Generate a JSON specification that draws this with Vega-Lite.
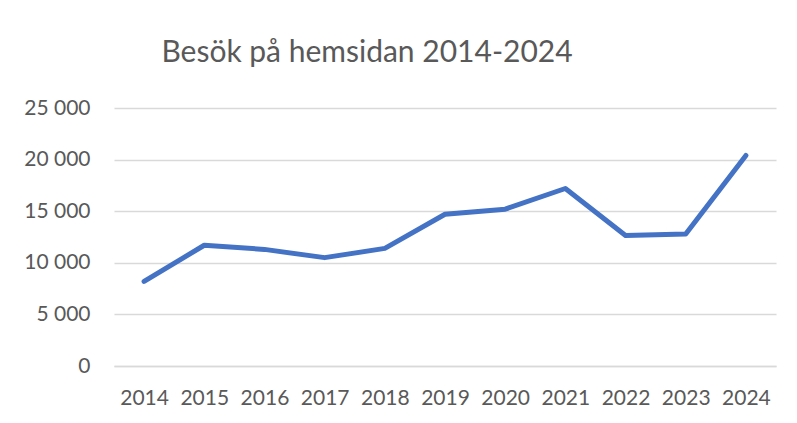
{
  "$schema": "https://vega.github.io/schema/vega-lite/v6.json",
  "width": 662,
  "height": 258,
  "autosize": {"type": "none"},
  "padding": {"left": 114, "top": 108, "right": 21, "bottom": 57},
  "background": "white",
  "title": {
    "text": "Besök på hemsidan 2014-2024",
    "font": "Lato",
    "fontSize": 30,
    "fontWeight": "normal",
    "color": "#595959",
    "anchor": "middle",
    "dx": -78,
    "offset": 29
  },
  "data": {
    "values": [
      {"year": "2014", "visits": 8200},
      {"year": "2015", "visits": 11700},
      {"year": "2016", "visits": 11300},
      {"year": "2017", "visits": 10500},
      {"year": "2018", "visits": 11400},
      {"year": "2019", "visits": 14700},
      {"year": "2020", "visits": 15200},
      {"year": "2021", "visits": 17200},
      {"year": "2022", "visits": 12650},
      {"year": "2023", "visits": 12800},
      {"year": "2024", "visits": 20400}
    ]
  },
  "mark": {"type": "line", "color": "#4472C4", "strokeWidth": 5, "strokeCap": "round", "strokeJoin": "round"},
  "encoding": {
    "x": {
      "field": "year",
      "type": "ordinal",
      "scale": {"padding": 0.5},
      "axis": {
        "title": null,
        "labelAngle": 0,
        "ticks": false,
        "domain": true,
        "domainColor": "#D9D9D9",
        "domainWidth": 1.3,
        "grid": false,
        "labelFont": "Lato",
        "labelFontSize": 21,
        "labelColor": "#595959",
        "labelPadding": 21
      }
    },
    "y": {
      "field": "visits",
      "type": "quantitative",
      "scale": {"domain": [0, 25000], "nice": false, "zero": true},
      "axis": {
        "title": null,
        "values": [0, 5000, 10000, 15000, 20000, 25000],
        "format": ",d",
        "ticks": false,
        "domain": false,
        "grid": true,
        "gridColor": "#D9D9D9",
        "gridWidth": 1.3,
        "labelFont": "Lato",
        "labelFontSize": 21,
        "labelColor": "#595959",
        "labelPadding": 24
      }
    }
  },
  "config": {
    "view": {"stroke": null},
    "locale": {
      "number": {"decimal": ",", "thousands": " ", "grouping": [3], "currency": ["", " kr"]}
    }
  }
}
